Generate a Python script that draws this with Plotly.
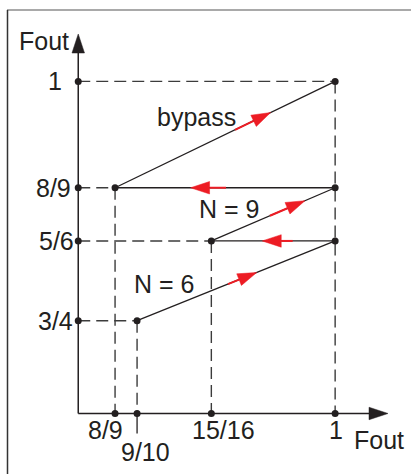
import math
import plotly.graph_objects as go

# ---- Chart data ----------------------------------------------------------
# Axis ticks (Fin on x, Fout on y)
x_ticks = [8/9, 9/10, 15/16, 1.0]
x_tick_labels = ["8/9", "9/10", "15/16", "1"]
y_ticks = [1.0, 8/9, 5/6, 3/4]
y_tick_labels = ["1", "8/9", "5/6", "3/4"]

# Rising transfer segments for each divider mode
mode_names = ["bypass", "N = 9", "N = 6"]
seg_x0 = [8/9, 15/16, 9/10]
seg_y0 = [8/9, 5/6, 3/4]
seg_x1 = [1.0, 1.0, 1.0]
seg_y1 = [1.0, 8/9, 5/6]

# Horizontal return (hop) segments
hop_y = [8/9, 5/6]
hop_x_from = [1.0, 1.0]
hop_x_to = [8/9, 15/16]

# ---- Layout geometry -----------------------------------------------------
W, H = 411, 474
XR = [0.8308, 1.0383]
YR = [0.5899, 1.0850]
SX = W / (XR[1] - XR[0])
SY = H / (YR[1] - YR[0])
OX, OY = 0.8703, 0.6531          # axis origin
X_END, Y_END = 1.0267, 1.0495    # axis arrow tips

INK = "#231f20"
DASH_C = "#3c3c3c"
RED = "#ed1c24"
FONT = dict(family="Liberation Sans, Arial, sans-serif", size=25, color=INK)


def to_px(x, y):
    return (x - XR[0]) * SX, (YR[1] - y) * SY


def to_data(px, py):
    return XR[0] + px / SX, YR[1] - py / SY


def head(x0, y0, x1, y1, length=19.0, width=12.5):
    """Filled triangle with its tip at (x1, y1), pointing along x0,y0 -> x1,y1.
    Returns triangle xs, ys and the data point at the back of the head."""
    p0 = to_px(x0, y0)
    p1 = to_px(x1, y1)
    dx, dy = p1[0] - p0[0], p1[1] - p0[1]
    n = math.hypot(dx, dy)
    ux, uy = dx / n, dy / n
    bx, by = p1[0] - length * ux, p1[1] - length * uy
    nx, ny = -uy, ux
    pts = [p1, (bx + nx * width / 2, by + ny * width / 2),
           (bx - nx * width / 2, by - ny * width / 2), p1]
    data = [to_data(*p) for p in pts]
    return [d[0] for d in data], [d[1] for d in data], to_data(bx, by)


def lerp(a, b, t):
    return a + (b - a) * t


fig = go.Figure()


def add_line(xs, ys, color, width, dash=None):
    fig.add_trace(go.Scatter(x=xs, y=ys, mode="lines",
                             line=dict(color=color, width=width, dash=dash),
                             hoverinfo="skip", showlegend=False))


def add_tri(xs, ys, color):
    fig.add_trace(go.Scatter(x=xs, y=ys, mode="lines", fill="toself",
                             fillcolor=color, line=dict(color=color, width=0.5),
                             hoverinfo="skip", showlegend=False))


# Dashed guide lines from each breakpoint to both axes
guides = [(1.0, 1.0), (8/9, 8/9), (15/16, 5/6), (9/10, 3/4)]
for gx, gy in guides:
    add_line([OX, gx], [gy, gy], DASH_C, 1.4, "12px,6px")
    add_line([gx, gx], [gy, OY], DASH_C, 1.4, "12px,6px")

# Tick stem under 9/10
stem_x, stem_y = to_data(0, to_px(9/10, OY)[1] + 20)
add_line([9/10, 9/10], [OY, stem_y], INK, 1.3)

# Axes with arrow heads
ax_tx, ax_ty, ax_back = head(OX, OY, X_END, OY)
add_line([OX, ax_back[0]], [OY, OY], INK, 1.5)
add_tri(ax_tx, ax_ty, INK)
ay_tx, ay_ty, ay_back = head(OX, OY, OX, Y_END)
add_line([OX, OX], [OY, ay_back[1]], INK, 1.5)
add_tri(ay_tx, ay_ty, INK)

# Transfer segments (solid black)
for x0, y0, x1, y1 in zip(seg_x0, seg_y0, seg_x1, seg_y1):
    add_line([x0, x1], [y0, y1], INK, 1.3)
for hy, hx0, hx1 in zip(hop_y, hop_x_from, hop_x_to):
    add_line([hx0, hx1], [hy, hy], INK, 1.3)

# Red direction arrows along each segment: (start, tip) as fractions
seg_arrow_frac = [(0.545, 0.707), (0.473, 0.756), (0.459, 0.604)]
for (x0, y0, x1, y1), (fa, fb) in zip(zip(seg_x0, seg_y0, seg_x1, seg_y1), seg_arrow_frac):
    sx, sy = lerp(x0, x1, fa), lerp(y0, y1, fa)
    tx, ty = lerp(x0, x1, fb), lerp(y0, y1, fb)
    txs, tys, back = head(sx, sy, tx, ty)
    add_line([sx, back[0]], [sy, back[1]], RED, 2.0)
    add_tri(txs, tys, RED)

hop_arrow_frac = [(0.496, 0.657), (0.343, 0.589)]
for hy, hx0, hx1, (fa, fb) in zip(hop_y, hop_x_from, hop_x_to, hop_arrow_frac):
    sx, tx = lerp(hx0, hx1, fa), lerp(hx0, hx1, fb)
    txs, tys, back = head(sx, hy, tx, hy)
    add_line([sx, back[0]], [hy, hy], RED, 2.0)
    add_tri(txs, tys, RED)

# Breakpoint dots
dot_x = [1.0, 8/9, 1.0, 15/16, 1.0, 9/10] + x_ticks + [OX] * len(y_ticks)
dot_y = [1.0, 8/9, 8/9, 5/6, 5/6, 3/4] + [OY] * len(x_ticks) + y_ticks
fig.add_trace(go.Scatter(x=dot_x, y=dot_y, mode="markers",
                         marker=dict(size=7, color=INK),
                         hoverinfo="skip", showlegend=False))

# Tick labels
x_label_shift = [(-10, -17), (8, -39), (12, -17), (1, -17)]
for v, t, (dx, dy) in zip(x_ticks, x_tick_labels, x_label_shift):
    fig.add_annotation(x=v, y=OY, xref="x", yref="y", text=t, showarrow=False,
                       xanchor="center", yanchor="middle",
                       xshift=dx, yshift=dy, font=FONT)
y_label_shift = [-23, -25, -22, -23]
for v, t, dx in zip(y_ticks, y_tick_labels, y_label_shift):
    fig.add_annotation(x=OX, y=v, xref="x", yref="y", text=t, showarrow=False,
                       xanchor="center", yanchor="middle",
                       xshift=dx, font=FONT)

# Axis titles and mode labels (pixel centres)
free_labels = [("Fout", 44, 41), ("Fout", 379, 440),
               (mode_names[0], 196, 117), (mode_names[1], 229, 209),
               (mode_names[2], 164, 284)]
for t, px, py in free_labels:
    fig.add_annotation(x=px / W, y=1 - py / H, xref="paper", yref="paper",
                       xanchor="center", yanchor="middle",
                       text=t, showarrow=False, font=FONT)

# Frame edges
fig.add_shape(type="line", xref="paper", yref="paper", x0=7 / W, x1=1,
              y0=1 - 10 / H, y1=1 - 10 / H, line=dict(color="#8c8c8c", width=1.5))
fig.add_shape(type="line", xref="paper", yref="paper", x0=7.5 / W, x1=7.5 / W,
              y0=1 - 10 / H, y1=0, line=dict(color="#333333", width=1.5))

fig.update_layout(
    width=W, height=H, autosize=False,
    margin=dict(l=0, r=0, t=0, b=0),
    paper_bgcolor="white", plot_bgcolor="white",
    xaxis=dict(range=XR, visible=False, fixedrange=True),
    yaxis=dict(range=YR, visible=False, fixedrange=True),
    showlegend=False,
)

fig.write_html("out.html")
